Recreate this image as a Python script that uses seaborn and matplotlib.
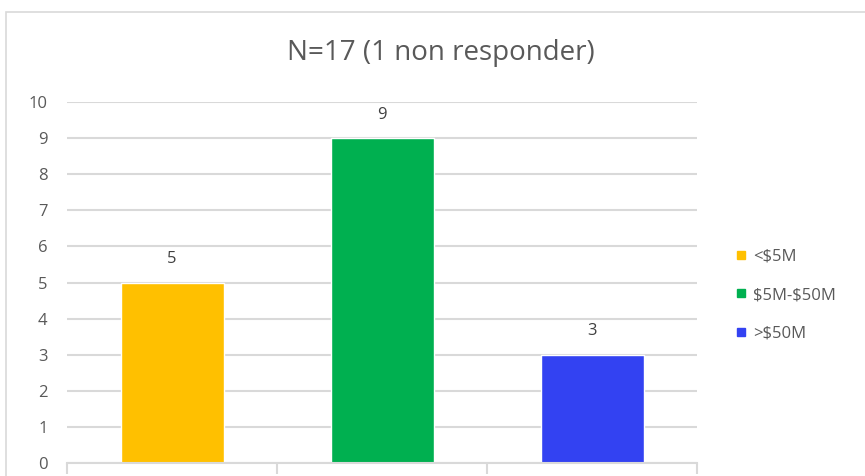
import pandas as pd
import numpy as np
import matplotlib.pyplot as plt
import seaborn as sns
from matplotlib.patches import Rectangle
from matplotlib.lines import Line2D

# chart data
categories = ["<$5M", "$5M-$50M", ">$50M"]
counts = [5, 9, 3]
colors = ["#FFC000", "#00B050", "#3342F2"]
title = "N=17 (1 non responder)"

df = pd.DataFrame({"band": categories, "count": counts})

sns.set_style("white")
plt.rcParams['font.family'] = ['Open Sans', 'DejaVu Sans']
plt.rcParams['text.parse_math'] = False

fig = plt.figure(figsize=(8.65, 4.76), dpi=100)
ax = fig.add_axes([0.0775, 0.0273, 0.7285, 0.7584])

sns.barplot(data=df, x="band", y="count", hue="band", palette=colors,
            width=0.49, dodge=False, legend=False, ax=ax, saturation=1)

ax.set_xlim(-0.5, 2.5)
ax.set_ylim(0, 10)
ax.set_yticks(range(0, 11))
ax.grid(axis="y", color="#D9D9D9", linewidth=1.5)
ax.set_axisbelow(True)
for s in ["top", "right", "left"]:
    ax.spines[s].set_visible(False)
ax.spines["bottom"].set_color("#D9D9D9")
ax.spines["bottom"].set_linewidth(1.5)

ax.set_xticks([])
ax.set_xticks([-0.5, 0.5, 1.5, 2.5], minor=True)
ax.tick_params(axis="x", which="minor", bottom=True, length=8, width=1.5, color="#D9D9D9")
ax.tick_params(axis="y", length=0, labelsize=12, labelcolor="#595959", pad=14)
ax.set_xlabel("")
ax.set_ylabel("")

for i, v in enumerate(counts):
    ax.annotate(str(v), (i, v), xytext=(0, 11), textcoords="offset points",
                ha="center", va="bottom", fontsize=12, color="#404040")

fig.text(0.51, 0.888, title, ha="center", va="center", fontsize=20, color="#595959")

handles = [Line2D([], [], marker="s", linestyle="", markersize=6,
                  markerfacecolor=c, markeredgecolor=c) for c in colors]
fig.legend(handles, categories, loc="center left", bbox_to_anchor=(0.83, 0.38),
           frameon=False, fontsize=12, labelcolor="#595959", handletextpad=0.2,
           labelspacing=1.35, handlelength=1.0)

fig.patches.append(Rectangle((6 / 865, -0.1), 1.1, 1 - 12 / 476 + 0.1,
                             transform=fig.transFigure, fill=False,
                             edgecolor="#D9D9D9", linewidth=1.2))

fig.savefig("out.png", dpi=100)
